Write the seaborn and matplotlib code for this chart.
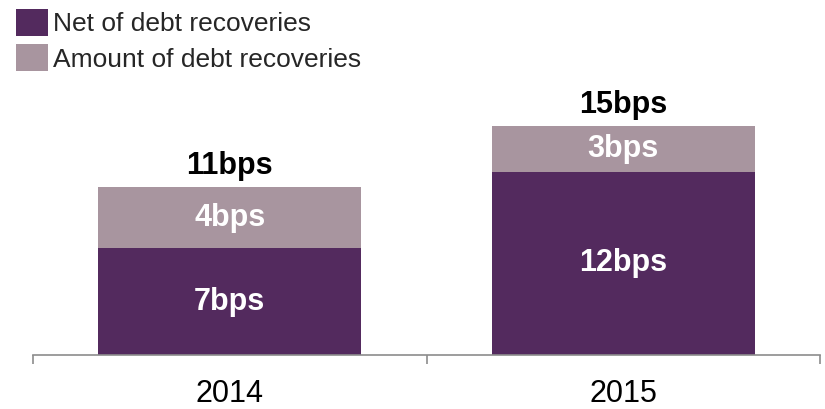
import matplotlib
matplotlib.use("Agg")
import matplotlib.pyplot as plt
import seaborn as sns
import pandas as pd
from matplotlib.patches import Patch

# Basis points of the cost of risk, split by debt recoveries
years = ["2014", "2015"]
net_of_recoveries = [7, 12]
debt_recoveries = [4, 3]
totals = [n + r for n, r in zip(net_of_recoveries, debt_recoveries)]

series_names = ["Net of debt recoveries", "Amount of debt recoveries"]
dark_purple = "#532A5E"
light_mauve = "#A8959F"

sns.set_theme(style="white")
plt.rcParams["font.family"] = ["Liberation Sans", "DejaVu Sans"]

df = pd.DataFrame({"year": years, "net": net_of_recoveries,
                   "rec": debt_recoveries, "total": totals})

fig = plt.figure(figsize=(8.25, 4.09), dpi=100)
ax = fig.add_axes([33 / 825, 54 / 409, 787 / 825, 255 / 409])

bar_w = 0.668
sns.barplot(data=df, x="year", y="total", color=light_mauve, width=bar_w,
            saturation=1, ax=ax, linewidth=0)
sns.barplot(data=df, x="year", y="net", color=dark_purple, width=bar_w,
            saturation=1, ax=ax, linewidth=0)

total_bars = ax.containers[0]
net_bars = ax.containers[1]

# totals above each stack
ax.bar_label(total_bars, labels=[f"{t}bps" for t in totals], padding=4,
             fontsize=22, fontweight="bold", color="black")
# net values centred in the dark segments
ax.bar_label(net_bars, labels=[f"{n}bps" for n in net_of_recoveries],
             label_type="center", fontsize=22, fontweight="bold", color="white")
# recoveries centred in the light segments
for i, (n, r) in enumerate(zip(net_of_recoveries, debt_recoveries)):
    ax.text(i, n + r / 2, f"{r}bps", ha="center", va="center",
            fontsize=22, fontweight="bold", color="white")

ax.set_xlim(-0.5, 1.5)
ax.set_ylim(0, 16.7)
ax.set_xlabel("")
ax.set_ylabel("")
ax.set_yticks([])
for side in ["left", "right", "top"]:
    ax.spines[side].set_visible(False)
ax.spines["bottom"].set_color("#8C8C8C")
ax.spines["bottom"].set_linewidth(1.2)

ax.set_xticks([0, 1])
ax.set_xticklabels(years, fontsize=22, color="black")
ax.tick_params(axis="x", which="major", length=0, pad=17)
ax.set_xticks([-0.5, 0.5, 1.5], minor=True)
ax.tick_params(axis="x", which="minor", length=6.5, width=1.2,
               color="#8C8C8C", direction="out", bottom=True)

handles = [Patch(facecolor=dark_purple, edgecolor="none"),
           Patch(facecolor=light_mauve, edgecolor="none")]
fig.legend(handles, series_names, loc="upper left",
           bbox_to_anchor=(16 / 825, 1 - 9 / 409), frameon=False,
           fontsize=19, handlelength=1.2, handleheight=1.2,
           handletextpad=0.2, labelspacing=0.3, borderpad=0,
           borderaxespad=0)

fig.savefig("out.png", dpi=100)
